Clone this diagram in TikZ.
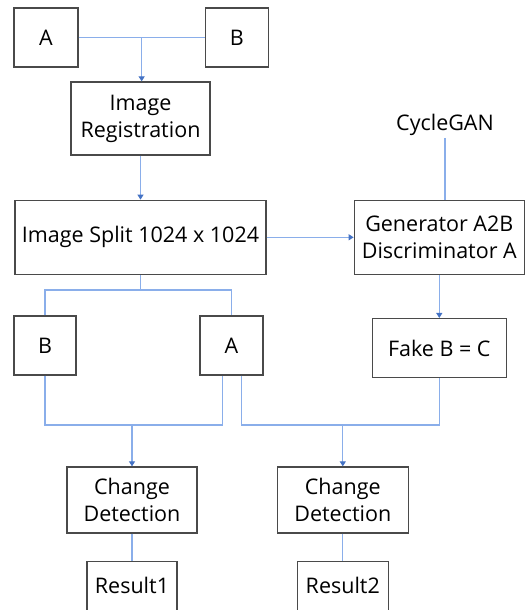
\documentclass[tikz,border=0pt]{standalone}
\usepackage{fontspec}
\setmainfont{Open Sans}
\usetikzlibrary{arrows.meta,positioning,calc}
\definecolor{edge}{HTML}{4A4A4A}
\definecolor{wire}{HTML}{8AAEEA}
\definecolor{tipblue}{HTML}{4472C4}
\tikzset{box/.style={draw=edge,line width=1.3pt,fill=white,align=center,inner sep=2pt,font=\fontsize{21.5}{27}\selectfont},plain/.style={align=center,inner sep=2pt,font=\fontsize{21.5}{27}\selectfont},link/.style={draw=wire,line width=1.1pt},flow/.style={link,-{Triangle[length=5pt,width=6pt,color=tipblue]}}}

\begin{document}
\begin{tikzpicture}[x=1pt,y=-1pt]
\useasboundingbox (0,0) rectangle (528,610);
\node[box,minimum width=64pt,minimum height=59pt] (a1) at (46,37.5) {A};
\node[box,minimum width=63pt,minimum height=59pt,right=126pt of a1] (b1) {B};
\node[box,minimum width=139pt,minimum height=73pt] (reg) at (140.5,118.5) {Image\\Registration};
\node[box,minimum width=251pt,minimum height=74pt,below=44pt of reg] (split) {Image Split 1024 x 1024};
\node[box,minimum width=170pt,minimum height=74pt,right=87pt of split] (gen) {Generator A2B\\Discriminator A};
\node[plain] (cyc) at (445,125) {CycleGAN};
\node[box,minimum width=62pt,minimum height=59pt] (b2) at (45,345.5) {B};
\node[box,minimum width=63pt,minimum height=59pt] (a2) at (231.5,345.5) {A};
\node[box,minimum width=134pt,minimum height=59pt,below=43pt of gen] (fake) {Fake B = C};
\node[box,minimum width=130pt,minimum height=66pt] (cd1) at (132,500) {Change\\Detection};
\node[box,minimum width=131pt,minimum height=66pt,right=79pt of cd1] (cd2) {Change\\Detection};
\node[box,minimum width=90pt,minimum height=49pt,below=27pt of cd1] (r1) {Result1};
\node[box,minimum width=91pt,minimum height=49pt,below=27pt of cd2] (r2) {Result2};
% joins
\coordinate (j1) at ($(a1.east)!.5!(b1.west)$);
\coordinate (j2) at ($(split.south)+(0,15)$);
\coordinate (l1) at ($(a2.south)+(-9,0)$);
\coordinate (l2) at ($(a2.south)+(10,0)$);
\coordinate (row) at (0,425);
% top
\draw[link] (a1) -- (b1);
\draw[flow] (j1) -- (j1 |- reg.north);
\draw[flow] (reg) -- (split);
\draw[flow] (split) -- (gen);
\draw[link] (cyc.south) -- (cyc.south |- gen.north);
\draw[flow] (gen) -- (fake);
% split into B and A
\draw[link] (split.south) -- (j2);
\draw[link] (b2.north) |- (j2) -| (a2.north);
% pairs for change detection
\draw[link] (b2.south) |- (row -| l1) -- (l1);
\draw[link] (l2) |- (row -| fake.south) -- (fake.south);
\draw[flow] (row -| cd1.north) -- (cd1.north);
\draw[flow] (row -| cd2.north) -- (cd2.north);
\draw[link] (cd1) -- (r1);
\draw[link] (cd2) -- (r2);
\end{tikzpicture}
\end{document}
